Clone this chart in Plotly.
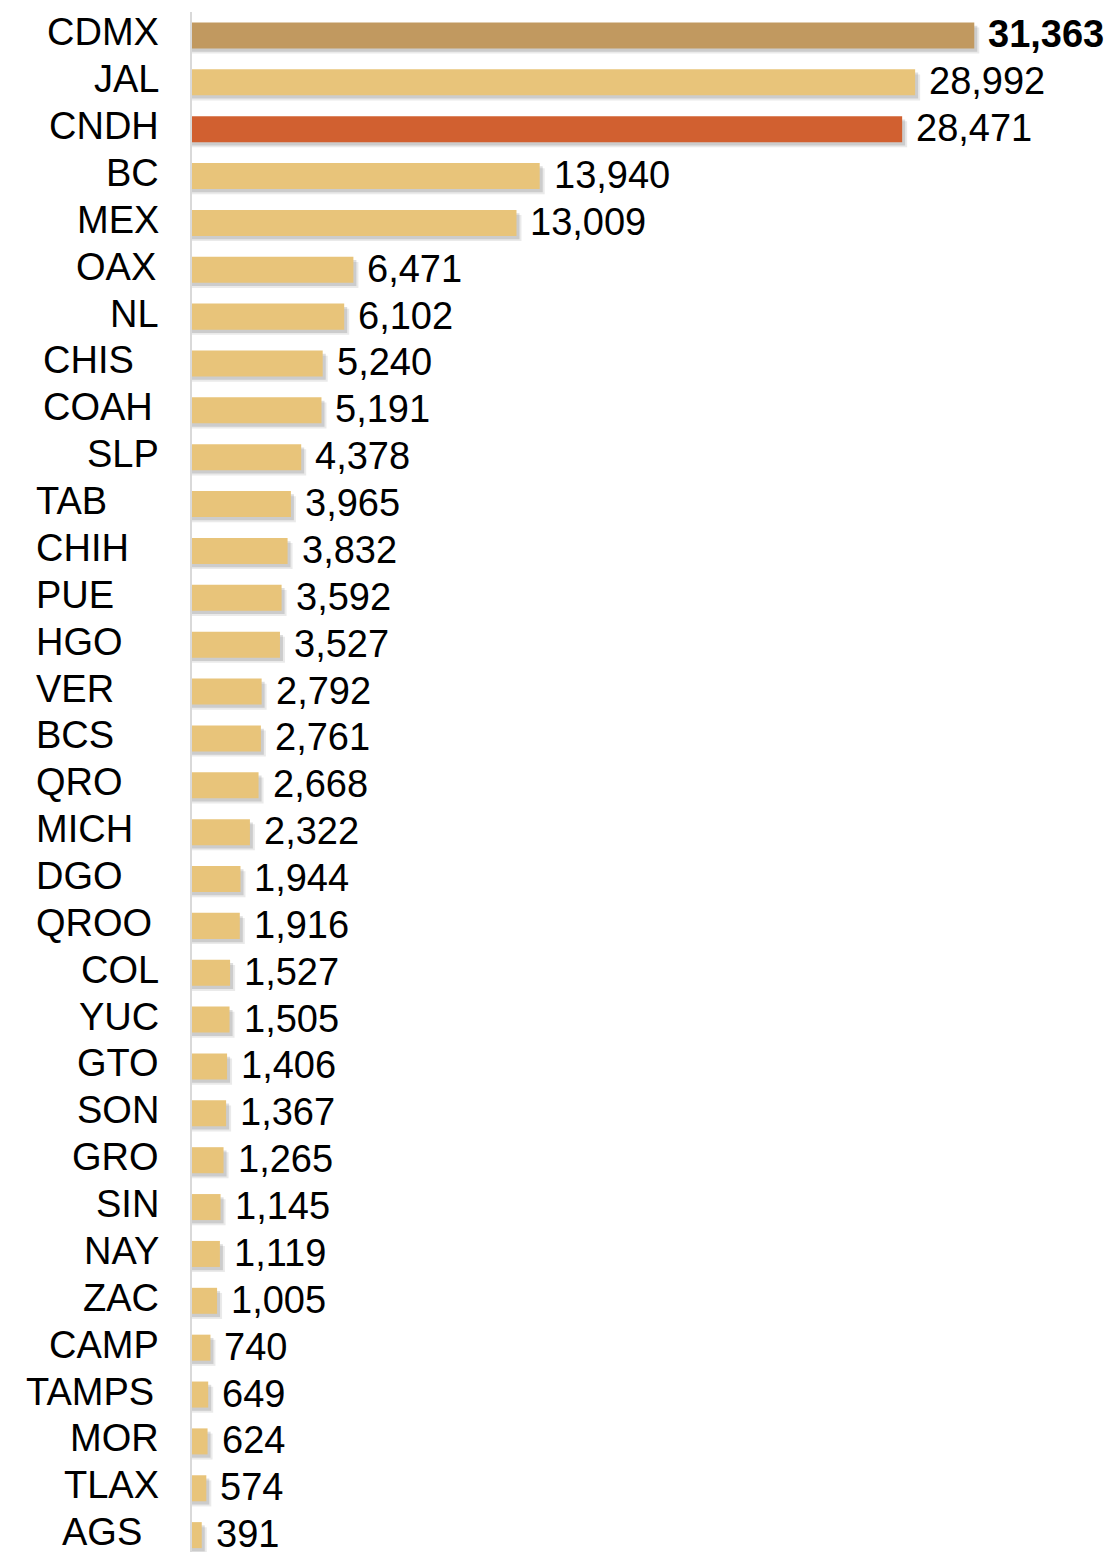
"""Quejas por entidad: barras horizontales con etiquetas a la izquierda."""

import plotly.graph_objects as go

# datos
estados = [
    "CDMX", "JAL", "CNDH", "BC", "MEX", "OAX", "NL", "CHIS", "COAH", "SLP",
    "TAB", "CHIH", "PUE", "HGO", "VER", "BCS", "QRO", "MICH", "DGO", "QROO",
    "COL", "YUC", "GTO", "SON", "GRO", "SIN", "NAY", "ZAC", "CAMP", "TAMPS",
    "MOR", "TLAX", "AGS",
]
valores = [
    31363, 28992, 28471, 13940, 13009, 6471, 6102, 5240, 5191, 4378,
    3965, 3832, 3592, 3527, 2792, 2761, 2668, 2322, 1944, 1916,
    1527, 1505, 1406, 1367, 1265, 1145, 1119, 1005, 740, 649,
    624, 574, 391,
]
etiquetas_valor = [f"{v:,}" for v in valores]

# estilo
COLOR_BASE = "#E8C47A"
COLOR_DESTACADO = {"CDMX": "#C19960", "CNDH": "#D16030"}
FUENTE = "Liberation Sans, Arial, Helvetica, sans-serif"
TAM = 38

PX_POR_UNIDAD = 783 / 31363
X_MAX = 35000
ANCHO_BARRA = 0.555
IZQ_PLOT = 192

# etiquetas alineadas a la izquierda (como en el original)
IZQ_37 = {"TAB", "CHIH", "PUE", "HGO", "VER", "BCS", "QRO", "MICH", "DGO", "QROO"}
IZQ_43 = {"CHIS", "COAH"}
DER_AJUSTE = {"TAMPS": 156, "AGS": 144, "OAX": 158}

colores = [COLOR_DESTACADO.get(e, COLOR_BASE) for e in estados]

fig = go.Figure()

# sombra difuminada (dos capas)
for dx_px, dy, alpha in [(5, 0.11, 0.11), (3, 0.07, 0.17)]:
    fig.add_trace(
        go.Bar(
            y=estados,
            x=[v + dx_px / PX_POR_UNIDAD for v in valores],
            orientation="h",
            width=ANCHO_BARRA,
            offset=-ANCHO_BARRA / 2 + dy,
            marker=dict(color=f"rgba(60,60,60,{alpha})", line_width=0),
            hoverinfo="skip",
            showlegend=False,
        )
    )

fig.add_trace(
    go.Bar(
        y=estados,
        x=valores,
        orientation="h",
        width=ANCHO_BARRA,
        marker=dict(color=colores, line_width=0),
        hovertemplate="%{y}: %{x:,}<extra></extra>",
        showlegend=False,
    )
)

anotaciones = []
for i, (estado, valor, texto) in enumerate(zip(estados, valores, etiquetas_valor)):
    if estado in IZQ_37 or estado in IZQ_43:
        izq = 34 if estado in IZQ_37 else 41
        anotaciones.append(dict(
            x=0, xref="paper", y=estado, yref="y", text=estado,
            xanchor="left", xshift=izq - IZQ_PLOT, yshift=3, showarrow=False,
            font=dict(family=FUENTE, size=TAM, color="#000"),
        ))
    else:
        der = DER_AJUSTE.get(estado, 161)
        anotaciones.append(dict(
            x=0, xref="paper", y=estado, yref="y", text=estado,
            xanchor="right", xshift=der - IZQ_PLOT, yshift=3, showarrow=False,
            font=dict(family=FUENTE, size=TAM, color="#000"),
        ))
    anotaciones.append(dict(
        x=valor, xref="x", y=estado, yref="y",
        text=f"<b>{texto}</b>" if i == 0 else texto,
        xanchor="left", xshift=12, yshift=1, showarrow=False,
        font=dict(family=FUENTE, size=TAM, color="#000"),
    ))

fig.update_layout(
    width=1111,
    height=1552,
    margin=dict(l=IZQ_PLOT, r=1111 - IZQ_PLOT - int(X_MAX * PX_POR_UNIDAD), t=12, b=0),
    plot_bgcolor="white",
    paper_bgcolor="white",
    barmode="overlay",
    annotations=anotaciones,
    xaxis=dict(range=[0, X_MAX], visible=False, fixedrange=True),
    yaxis=dict(
        range=[32.36, -0.5],
        showticklabels=False,
        ticks="",
        showgrid=False,
        zeroline=False,
        showline=True,
        linecolor="#D9D9D9",
        linewidth=2,
        fixedrange=True,
    ),
)

# sin margen del <body> para que la figura ocupe la ventana exacta
fig.write_html(
    "out.html",
    config={"displayModeBar": False},
    post_script="document.body.style.margin='0';",
)
